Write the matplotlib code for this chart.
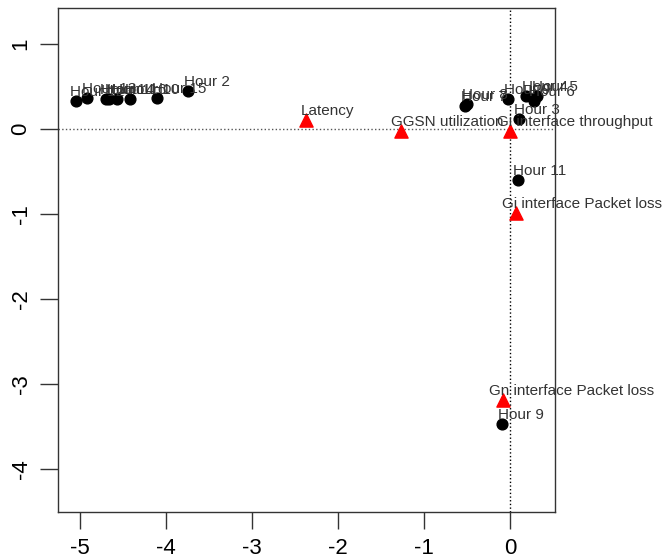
import matplotlib
matplotlib.use('Agg')
import matplotlib.pyplot as plt
from matplotlib.transforms import offset_copy

plt.rcParams['font.family'] = ['Liberation Sans', 'DejaVu Sans']

# puntos de las horas (filas)
hour_labels = ['Hour 12', 'Hour 13', 'Hour 14', 'Hour 1', 'Hour 16', 'Hour 10',
               'Hour 15', 'Hour 2', 'Hour 7', 'Hour 8', 'Hour 0', 'Hour 4',
               'Hour 5', 'Hour 6', 'Hour 3', 'Hour 11', 'Hour 9']
hour_x = [-5.05, -4.92, -4.70, -4.66, -4.57, -4.42, -4.10, -3.74, -0.52, -0.50,
          -0.02, 0.19, 0.31, 0.28, 0.10, 0.09, -0.09]
hour_y = [0.33, 0.36, 0.35, 0.35, 0.35, 0.35, 0.36, 0.44, 0.27, 0.29,
          0.35, 0.39, 0.39, 0.33, 0.12, -0.60, -3.47]

# variables (columnas)
var_labels = ['Latency', 'GGSN utilization', 'Gi interface throughput',
              'Gi interface Packet loss', 'Gn interface Packet loss']
var_x = [-2.37, -1.27, 0.0, 0.07, -0.08]
var_y = [0.11, -0.02, -0.02, -0.99, -3.18]

xticks = [-5, -4, -3, -2, -1, 0]
yticks = [1, 0, -1, -2, -3, -4]

fig = plt.figure(figsize=(6.69, 5.59), dpi=100)
ax = fig.add_axes([58 / 669, 1 - 512 / 559, (555 - 58) / 669, (512 - 8) / 559])

ax.axhline(0, color='#555555', linestyle=':', linewidth=1, zorder=1)
ax.axvline(0, color='black', linestyle=':', linewidth=1, zorder=1)

ax.scatter(hour_x, hour_y, s=60, color='black', zorder=3)
ax.scatter(var_x, var_y, s=90, marker='^', color='red', zorder=3)

ax.set_xlim(-5.256, 0.523)
ax.set_ylim(-4.5, 1.42)
ax.set_xticks(xticks)
ax.set_yticks(yticks)
ax.set_xticklabels([str(v) for v in xticks])
ax.set_yticklabels([str(v) for v in yticks], rotation=90, va='center')
ax.tick_params(axis='x', length=12, width=1, pad=7, labelsize=16, color='#333333')
ax.tick_params(axis='y', length=13, width=1, pad=6, labelsize=16, color='#333333')
for sp in ax.spines.values():
    sp.set_color('#333333')
    sp.set_linewidth(1)

# etiquetas: esquina inferior izquierda cerca del punto, corridas ~8% del ancho
fig.canvas.draw()
renderer = fig.canvas.get_renderer()
labels = hour_labels + var_labels
xs = hour_x + var_x
ys = hour_y + var_y
for lab, x, y in zip(labels, xs, ys):
    t = ax.text(x, y, lab, fontsize=11, color='#333333', ha='left', va='bottom',
                zorder=4)
    w = t.get_window_extent(renderer).width
    t.set_transform(offset_copy(ax.transData, fig=fig, x=-0.08 * w - 1, y=2, units='dots'))

fig.savefig('out.png', dpi=100)
